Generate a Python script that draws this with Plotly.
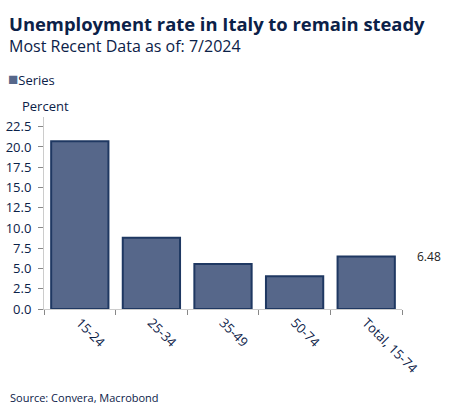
import plotly.graph_objects as go

categories = ["15-24", "25-34", "35-49", "50-74", "Total, 15-74"]
values = [20.7, 8.8, 5.55, 4.05, 6.48]
y_ticks = [0, 2.5, 5, 7.5, 10, 12.5, 15, 17.5, 20, 22.5]

W, H = 453, 417
L, R, T, B = 44, 51, 117, 108
FONT = "Open Sans"
NAVY = "#0b2148"
BAR = "#56678a"
EDGE = "#1f3862"


def px(x, y):
    # pixel position -> paper coordinates
    pw, ph = W - L - R, H - T - B
    return (x - L) / pw, (H - B - y) / ph


fig = go.Figure()
fig.add_trace(go.Bar(
    x=categories, y=values, name="Series",
    marker=dict(color=BAR, line=dict(color=EDGE, width=2)),
))

annots = [
    dict(text="<b>Unemployment rate in Italy to remain steady</b>", pos=(7, 23), size=18.4),
    dict(text="Most Recent Data as of: 7/2024", pos=(7, 46), size=16),
    dict(text=f"<span style='color:{BAR};font-size:17px'>■</span>Series", pos=(6, 78), size=13),
    dict(text="Percent", pos=(20, 106), size=13),
    dict(text="Source: Convera, Macrobond", pos=(8, 397), size=11),
]
for a in annots:
    x, y = px(*a["pos"])
    fig.add_annotation(text=a["text"], x=x, y=y, xref="paper", yref="paper",
                       xanchor="left", yanchor="middle", showarrow=False,
                       font=dict(family=FONT, size=a["size"], color=NAVY))

fig.add_annotation(text=f"{values[-1]:.2f}", x=1, y=values[-1], xref="paper", yref="y",
                   xanchor="left", yanchor="middle", xshift=13, showarrow=False,
                   font=dict(family=FONT, size=12, color="#222222"))

fig.update_layout(
    width=W, height=H,
    margin=dict(l=L, r=R, t=T, b=B, autoexpand=False),
    paper_bgcolor="white", plot_bgcolor="white",
    font=dict(family=FONT, color=NAVY),
    bargap=0.2,
    showlegend=False,
)
fig.update_xaxes(
    automargin=False,
    showline=True, linecolor="#cccccc", linewidth=1,
    ticks="outside", tickson="boundaries", ticklen=5, tickcolor="#888888",
    tickangle=45, tickfont=dict(size=13, color=NAVY), showgrid=False,
)
fig.update_yaxes(
    automargin=False,
    range=[0, 23.7], tickvals=y_ticks, ticktext=[f"{v:.1f}" for v in y_ticks],
    showline=True, linecolor="#cccccc", linewidth=1,
    ticks="outside", ticklen=5, tickcolor="#888888", ticklabelstandoff=4,
    tickfont=dict(size=13, color=NAVY), showgrid=False, zeroline=False,
)

fig.write_html("out.html", config={"displayModeBar": False},
               post_script="document.body.style.margin='0';")
